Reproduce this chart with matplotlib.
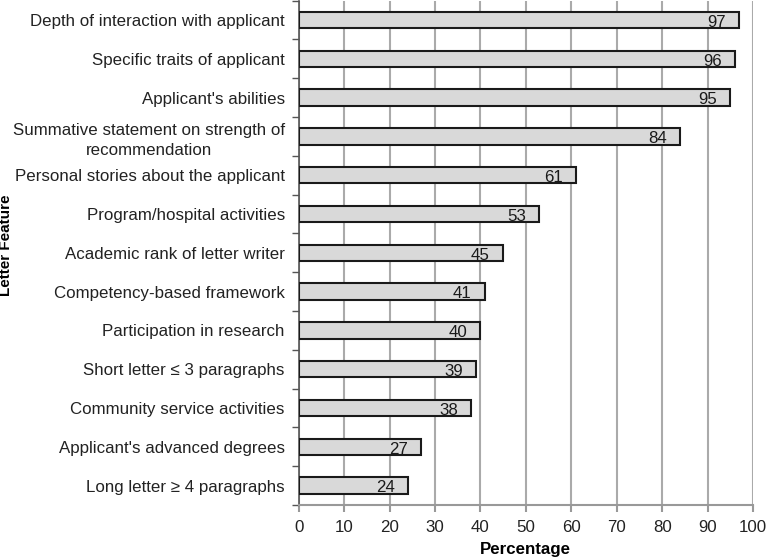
import matplotlib
matplotlib.use("Agg")
import matplotlib.pyplot as plt
import numpy as np

plt.rcParams['font.family'] = ['Liberation Sans', 'DejaVu Sans']

categories = [
    "Depth of interaction with applicant",
    "Specific traits of applicant",
    "Applicant's abilities",
    "Summative statement on strength of\nrecommendation",
    "Personal stories about the applicant",
    "Program/hospital activities",
    "Academic rank of letter writer",
    "Competency-based framework",
    "Participation in research",
    "Short letter \u2264 3 paragraphs",
    "Community service activities",
    "Applicant's advanced degrees",
    "Long letter \u2265 4 paragraphs",
]
values = [97, 96, 95, 84, 61, 53, 45, 41, 40, 39, 38, 27, 24]
xticks = list(range(0, 101, 10))

FS = 12.2

fig = plt.figure(figsize=(7.66, 5.59), dpi=100)
ax = fig.add_axes([0.390, 0.0966, 0.593, 0.9024])

y = np.arange(len(categories))
ax.barh(y, values, height=0.42, color='#d9d9d9', edgecolor='#1a1a1a', linewidth=1.5, zorder=3)
for yi, v in zip(y, values):
    ax.text(v - 2.9, yi + 0.06, str(v), ha='right', va='center', fontsize=FS, color='#1a1a1a', zorder=4)

ax.set_ylim(len(categories) - 0.5, -0.5)
ax.set_xlim(0, 100)
ax.set_xticks(xticks)
ax.set_yticks(y)
ax.set_yticklabels(categories, fontsize=FS, color='#222222', ha='right',
                   multialignment='center', linespacing=1.4)
ax.set_yticks(np.arange(-0.5, len(categories), 1), minor=True)
ax.tick_params(axis='y', which='major', length=0, pad=10)
ax.tick_params(axis='y', which='minor', length=5, color='#555555', width=1)
ax.tick_params(axis='x', which='major', length=5, color='#999999', width=1.5, labelsize=FS, labelcolor='#222222', pad=6)

ax.grid(axis='x', color='#aaaaaa', linewidth=1.5, zorder=0)
for s in ['top', 'right']:
    ax.spines[s].set_visible(False)
ax.spines['left'].set_color('#555555')
ax.spines['left'].set_linewidth(1.2)
ax.spines['bottom'].set_color('#999999')
ax.spines['bottom'].set_linewidth(1.5)

ax.set_xlabel("Percentage", fontsize=FS, fontweight='bold', labelpad=5)
ax.set_ylabel("Letter Feature", fontsize=11, fontweight='bold')
ax.yaxis.set_label_coords(-0.63, 0.515)

fig.savefig("out.png", dpi=100)
